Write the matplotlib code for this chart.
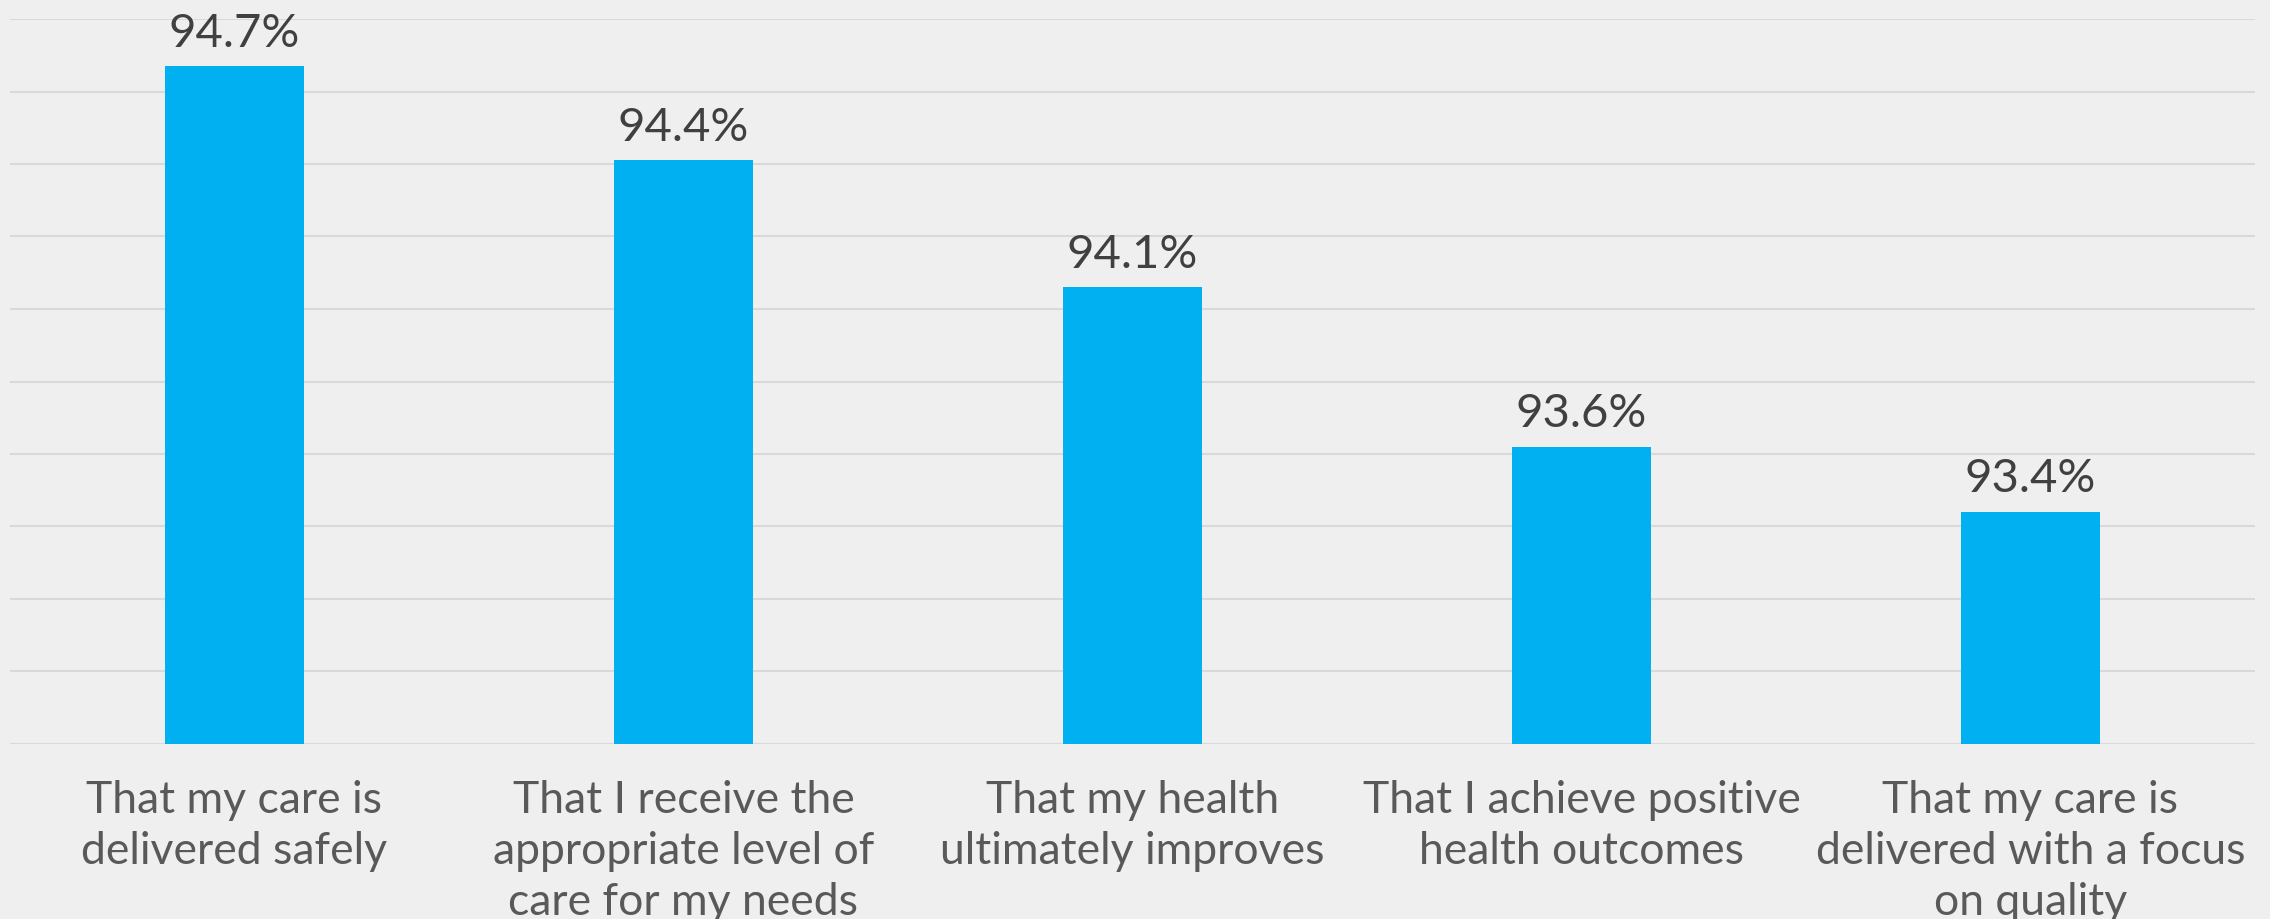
import matplotlib
matplotlib.use("Agg")
import matplotlib.pyplot as plt

# data
categories = [
    "That my care is\ndelivered safely",
    "That I receive the\nappropriate level of\ncare for my needs",
    "That my health\nultimately improves",
    "That I achieve positive\nhealth outcomes",
    "That my care is\ndelivered with a focus\non quality",
]
values = [94.67, 94.41, 94.06, 93.62, 93.44]
grid_ticks = [92.8, 93.0, 93.2, 93.4, 93.6, 93.8, 94.0, 94.2, 94.4, 94.6, 94.8]

plt.rcParams['font.family'] = ['Lato', 'DejaVu Sans']

fig = plt.figure(figsize=(22.7, 9.2), dpi=100)
fig.patch.set_facecolor('#efefef')
ax = fig.add_axes([10/2270, 175/920, 2245/2270, 725/920])
ax.set_facecolor('#efefef')

x = range(len(categories))
bars = ax.bar(x, values, width=0.31, color='#00b0f0', zorder=3)

ax.set_ylim(92.8, 94.8)
ax.set_xlim(-0.5, len(categories) - 0.5)
ax.set_yticks(grid_ticks)
ax.yaxis.grid(True, color='#d9d9d9', linewidth=1.5, zorder=0)
ax.tick_params(axis='y', left=False, labelleft=False)
ax.tick_params(axis='x', bottom=False, pad=22)
ax.set_xticks(list(x))
ax.set_xticklabels(categories, fontsize=32, color='#595959',
                   fontweight='normal', linespacing=1.3)
for s in ax.spines.values():
    s.set_visible(False)

for b, v in zip(bars, values):
    ax.annotate(f"{v:.1f}%", (b.get_x() + b.get_width() / 2, v),
                xytext=(0, 9), textcoords='offset points',
                ha='center', va='bottom', fontsize=34, color='#404040',
                fontweight='normal', annotation_clip=False)

fig.savefig('out.png', dpi=100, facecolor=fig.get_facecolor())
